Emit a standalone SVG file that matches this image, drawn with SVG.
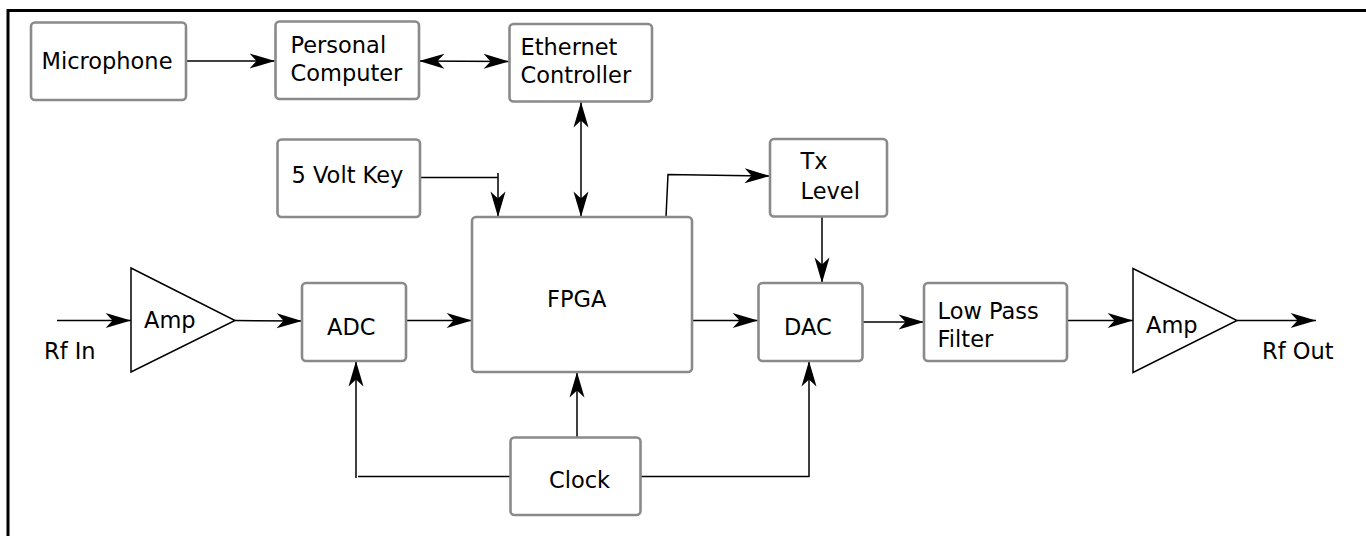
<svg xmlns="http://www.w3.org/2000/svg" width="1366" height="536" viewBox="0 0 1366 536">
  <style>
    .box { fill: #ffffff; stroke: #8a8a8a; stroke-width: 2.6; }
    .tri { fill: #ffffff; stroke: #000000; stroke-width: 1.5; }
    .lbl { font-family: "DejaVu Sans", "Liberation Sans", sans-serif; font-size: 22.5px; fill: #000000; }
    .wire { fill: none; stroke: #000000; stroke-width: 1.5; }
    .arr { marker-end: url(#head); }
    .both { marker-start: url(#tail); marker-end: url(#head); }
  </style>
  <defs>
    <marker id="head" markerUnits="userSpaceOnUse" markerWidth="30" markerHeight="20" viewBox="-24 -8 26 16" refX="0" refY="0" orient="auto">
      <path d="M0,0 L-22,-6.5 L-16,0 L-22,6.5 Z" fill="#000000"/>
    </marker>
    <marker id="tail" markerUnits="userSpaceOnUse" markerWidth="30" markerHeight="20" viewBox="-2 -8 26 16" refX="0" refY="0" orient="auto">
      <path d="M0,0 L22,-6.5 L16,0 L22,6.5 Z" fill="#000000"/>
    </marker>
  </defs>

  <rect width="1366" height="536" fill="#ffffff"/>
  <!-- outer frame -->
  <rect x="8" y="10.5" width="1400" height="560" fill="none" stroke="#000000" stroke-width="3"/>

  <!-- connectors -->
  <g id="connectors">
    <path class="wire arr" d="M57,320.5 L131,320.5"/>
    <path class="wire arr" d="M235,320.5 L302,321"/>
    <path class="wire arr" d="M406,320.5 L472,320.5"/>
    <path class="wire arr" d="M692,320.5 L758,320.5"/>
    <path class="wire arr" d="M863,322 L924,322"/>
    <path class="wire arr" d="M1067,320.5 L1133,320.5"/>
    <path class="wire arr" d="M1237,320.5 L1316,320.5"/>
    <path class="wire arr" d="M187,61 L275,61"/>
    <path class="wire both" d="M419,61 L509,61.5"/>
    <path class="wire both" d="M581,102 L581,217"/>
    <path class="wire arr" d="M420,177.5 L498,177.5 M498,173 L498,217"/>
    <path class="wire arr" d="M666,217 L668,174.5 L770,176"/>
    <path class="wire arr" d="M822,217 L822,283"/>
    <path class="wire arr" d="M577,437 L577,372"/>
    <path class="wire arr" d="M510,476.5 L358,476.5 M356,478 L356,361"/>
    <path class="wire arr" d="M641,476.5 L809,476.5 L809,361"/>
  </g>

  <g id="microphone">
    <rect class="box" x="31" y="22.5" width="155" height="77.5" rx="4"/>
    <text class="lbl" x="41.5" y="69">Microphone</text>
  </g>
  <g id="personal-computer">
    <rect class="box" x="275.5" y="21.5" width="143.5" height="77.5" rx="4"/>
    <text class="lbl" x="290.5" y="53">Personal</text>
    <text class="lbl" x="290.5" y="81">Computer</text>
  </g>
  <g id="ethernet-controller">
    <rect class="box" x="509.5" y="24" width="142.5" height="77.5" rx="4"/>
    <text class="lbl" x="520.5" y="55">Ethernet</text>
    <text class="lbl" x="520.5" y="83">Controller</text>
  </g>
  <g id="five-volt-key">
    <rect class="box" x="277.5" y="139.5" width="142.5" height="77.5" rx="4"/>
    <text class="lbl" x="291.5" y="183">5 Volt Key</text>
  </g>
  <g id="tx-level">
    <rect class="box" x="770" y="139" width="117" height="77.5" rx="4"/>
    <text class="lbl" x="800.5" y="169">Tx</text>
    <text class="lbl" x="800.5" y="199">Level</text>
  </g>
  <g id="fpga">
    <rect class="box" x="472" y="217" width="220" height="155" rx="4"/>
    <text class="lbl" x="547" y="307">FPGA</text>
  </g>
  <g id="adc">
    <rect class="box" x="302" y="283" width="104" height="78" rx="4"/>
    <text class="lbl" x="327" y="335">ADC</text>
  </g>
  <g id="dac">
    <rect class="box" x="758.5" y="283" width="104" height="78" rx="4"/>
    <text class="lbl" x="784" y="335">DAC</text>
  </g>
  <g id="low-pass-filter">
    <rect class="box" x="924" y="283" width="143" height="78" rx="4"/>
    <text class="lbl" x="937.5" y="319">Low Pass</text>
    <text class="lbl" x="937.5" y="347">Filter</text>
  </g>
  <g id="clock">
    <rect class="box" x="510.5" y="437.5" width="130" height="77.5" rx="4"/>
    <text class="lbl" x="549" y="488">Clock</text>
  </g>
  <g id="amp-in">
    <path class="tri" d="M131,268 L235,320.5 L131,372 Z"/>
    <text class="lbl" x="144" y="328">Amp</text>
  </g>
  <g id="amp-out">
    <path class="tri" d="M1133,268.5 L1237,320.5 L1133,372.5 Z"/>
    <text class="lbl" x="1146" y="333">Amp</text>
  </g>
  <g id="rf-in">
    <text class="lbl" x="44" y="359">Rf In</text>
  </g>
  <g id="rf-out">
    <text class="lbl" x="1262" y="359">Rf Out</text>
  </g>
</svg>
